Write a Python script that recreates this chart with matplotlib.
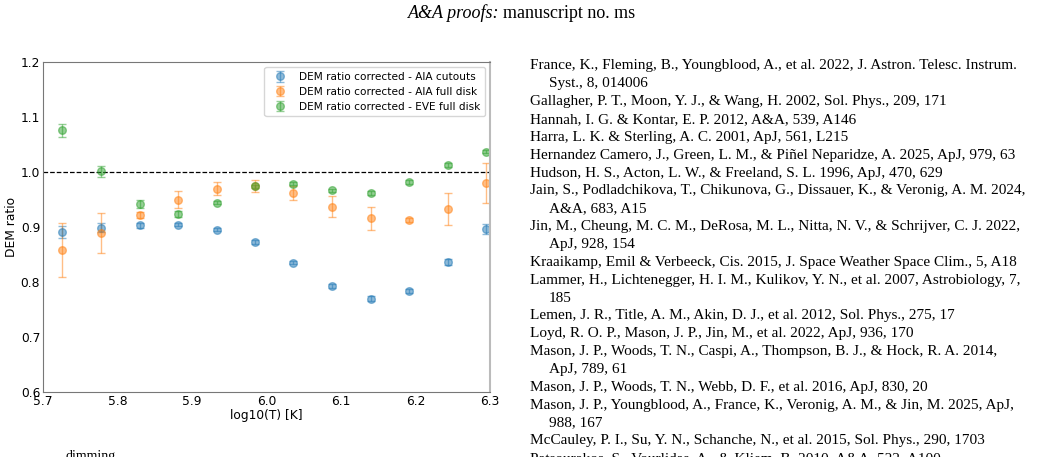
import matplotlib
matplotlib.use("Agg")
import matplotlib.pyplot as plt

# log10(T) bin centres
log_t = [5.726, 5.778, 5.830, 5.881, 5.933, 5.985, 6.036, 6.088, 6.140, 6.191, 6.243, 6.295]

aia_cutouts = [0.891, 0.899, 0.903, 0.904, 0.895, 0.873, 0.835, 0.793, 0.770, 0.784, 0.836, 0.897]
aia_cutouts_err = [0.011, 0.008, 0.005, 0.003, 0.003, 0.003, 0.003, 0.004, 0.005, 0.004, 0.005, 0.009]

aia_full = [0.859, 0.889, 0.922, 0.950, 0.970, 0.975, 0.962, 0.937, 0.916, 0.913, 0.933, 0.980]
aia_full_err = [0.049, 0.037, 0.006, 0.015, 0.011, 0.011, 0.012, 0.019, 0.021, 0.004, 0.029, 0.036]

eve_full = [1.076, 1.001, 0.942, 0.924, 0.944, 0.974, 0.979, 0.967, 0.962, 0.982, 1.013, 1.037]
eve_full_err = [0.012, 0.010, 0.008, 0.006, 0.003, 0.003, 0.003, 0.003, 0.003, 0.003, 0.003, 0.003]

labels = [
    "DEM ratio corrected - AIA cutouts",
    "DEM ratio corrected - AIA full disk",
    "DEM ratio corrected - EVE full disk",
]

references = [
    ("France, K., Fleming, B., Youngblood, A., et al. 2022, J. Astron. Telesc. Instrum.", False),
    ("Syst., 8, 014006", True),
    ("Gallagher, P. T., Moon, Y. J., & Wang, H. 2002, Sol. Phys., 209, 171", False),
    ("Hannah, I. G. & Kontar, E. P. 2012, A&A, 539, A146", False),
    ("Harra, L. K. & Sterling, A. C. 2001, ApJ, 561, L215", False),
    ("Hernandez Camero, J., Green, L. M., & Piñel Neparidze, A. 2025, ApJ, 979, 63", False),
    ("Hudson, H. S., Acton, L. W., & Freeland, S. L. 1996, ApJ, 470, 629", False),
    ("Jain, S., Podladchikova, T., Chikunova, G., Dissauer, K., & Veronig, A. M. 2024,", False),
    ("A&A, 683, A15", True),
    ("Jin, M., Cheung, M. C. M., DeRosa, M. L., Nitta, N. V., & Schrijver, C. J. 2022,", False),
    ("ApJ, 928, 154", True),
    ("Kraaikamp, Emil & Verbeeck, Cis. 2015, J. Space Weather Space Clim., 5, A18", False),
    ("Lammer, H., Lichtenegger, H. I. M., Kulikov, Y. N., et al. 2007, Astrobiology, 7,", False),
    ("185", True),
    ("Lemen, J. R., Title, A. M., Akin, D. J., et al. 2012, Sol. Phys., 275, 17", False),
    ("Loyd, R. O. P., Mason, J. P., Jin, M., et al. 2022, ApJ, 936, 170", False),
    ("Mason, J. P., Woods, T. N., Caspi, A., Thompson, B. J., & Hock, R. A. 2014,", False),
    ("ApJ, 789, 61", True),
    ("Mason, J. P., Woods, T. N., Webb, D. F., et al. 2016, ApJ, 830, 20", False),
    ("Mason, J. P., Youngblood, A., France, K., Veronig, A. M., & Jin, M. 2025, ApJ,", False),
    ("988, 167", True),
    ("McCauley, P. I., Su, Y. N., Schanche, N., et al. 2015, Sol. Phys., 290, 1703", False),
    ("Patsourakos, S., Vourlidas, A., & Kliem, B. 2010, A&A, 522, A100", False),
]

W, H = 1047, 457
fig = plt.figure(figsize=(W / 100, H / 100), dpi=100)
ax = fig.add_axes([43 / W, 1 - 392 / H, 447 / W, 330 / H])

series = [
    (aia_cutouts, aia_cutouts_err, "#1f77b4"),
    (aia_full, aia_full_err, "#ff7f0e"),
    (eve_full, eve_full_err, "#2ca02c"),
]
for (vals, errs, col), lab in zip(series, labels):
    ax.errorbar(log_t, vals, yerr=errs, fmt="o", color=col, alpha=0.5,
                markersize=5.5, capsize=3, elinewidth=1, label=lab)

ax.axhline(1.0, color="black", linestyle="--", linewidth=0.9)
ax.set_xlim(5.7, 6.3)
ax.set_ylim(0.6, 1.2)
ax.set_xlabel("log10(T) [K]", fontsize=8.8, labelpad=1)
ax.set_ylabel("DEM ratio", fontsize=8.8, labelpad=2)
ax.tick_params(length=0, pad=2, labelsize=8.8)
for side in ["left", "bottom", "top"]:
    ax.spines[side].set_color("#777777")
ax.spines["right"].set_color("#bbbbbb")
ax.spines["right"].set_linewidth(1.5)
ax.legend(loc="upper right", fontsize=7.6, handletextpad=0.8, borderpad=0.45,
          labelspacing=0.45, framealpha=0.8)

# page header
serif = ["Liberation Serif", "DejaVu Serif"]
fig.text(499.5 / W, 1 - 18.5 / H, "A&A proofs:", fontsize=13, style="italic",
         family=serif, ha="right", va="baseline")
fig.text(503 / W, 1 - 18.5 / H, "manuscript no. ms", fontsize=13,
         family=serif, ha="left", va="baseline")

# reference list
y0 = 69.5
for i, (line, indent) in enumerate(references):
    x = 549 if indent else 530
    y = y0 + i * 17.85
    fig.text(x / W, 1 - y / H, line, fontsize=11, family=serif,
             ha="left", va="baseline")

fig.text(65 / W, 1 - 460 / H, "dimming", fontsize=10, family=serif,
         ha="left", va="baseline")

fig.savefig("out.png", dpi=100)
